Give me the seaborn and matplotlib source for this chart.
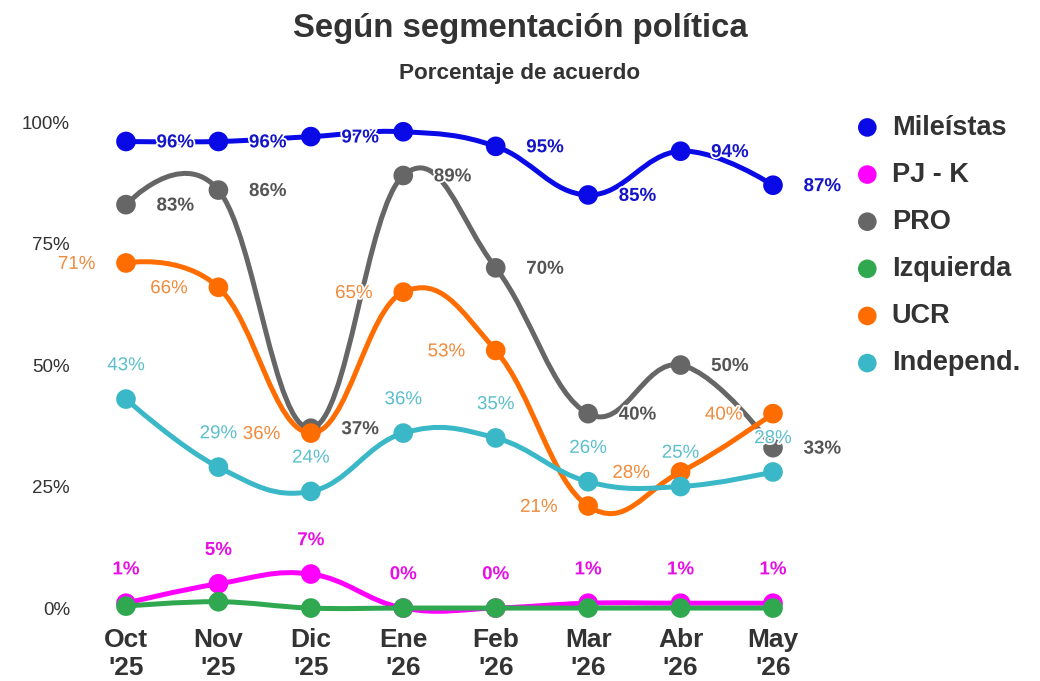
import numpy as np
import pandas as pd
import matplotlib
matplotlib.use('Agg')
import matplotlib.pyplot as plt
import matplotlib.patheffects as pe
import seaborn as sns
from matplotlib.path import Path
from matplotlib.patches import PathPatch

sns.set_theme(style='white')
plt.rcParams['font.family'] = ['Liberation Sans', 'DejaVu Sans']

# datos
meses = ["Oct\n'25", "Nov\n'25", "Dic\n'25", "Ene\n'26", "Feb\n'26", "Mar\n'26", "Abr\n'26", "May\n'26"]
mileistas = [96, 96, 97, 98, 95, 85, 94, 87]
pj_k = [1, 5, 7, 0, 0, 1, 1, 1]
pro = [83, 86, 37, 89, 70, 40, 50, 33]
izquierda = [0.4, 1.3, 0, 0, 0, 0, 0, 0]
ucr = [71, 66, 36, 65, 53, 21, 28, 40]
independ = [43, 29, 24, 36, 35, 26, 25, 28]

# etiquetas visibles (None = oculta por solapamiento)
lab_mileistas = ['96%', '96%', '97%', None, '95%', '85%', '94%', '87%']

series = [
    # nombre, valores, color linea, color etiqueta, peso, posicion etiqueta
    ('Mileístas', mileistas, '#0a0ae6', '#1414c8', 'bold', 'right'),
    ('PJ - K', pj_k, '#ff00ff', '#e60fe6', 'bold', 'top'),
    ('PRO', pro, '#666666', '#555555', 'bold', 'right'),
    ('Izquierda', izquierda, '#2fa84f', None, None, None),
    ('UCR', ucr, '#ff6d00', '#f08a3c', 'normal', 'left'),
    ('Independ.', independ, '#3bb8c8', '#5bbfcc', 'normal', 'top'),
]


def spline_path(xs, ys, smoothing=1.5):
    """curva tipo spline (control points estilo highcharts)"""
    n = len(xs)
    lc = [(x, y) for x, y in zip(xs, ys)]
    rc = [(x, y) for x, y in zip(xs, ys)]
    d = smoothing + 1
    for i in range(1, n - 1):
        x, y = xs[i], ys[i]
        lx = (smoothing * x + xs[i - 1]) / d
        ly = (smoothing * y + ys[i - 1]) / d
        rx = (smoothing * x + xs[i + 1]) / d
        ry = (smoothing * y + ys[i + 1]) / d
        corr = ((ry - ly) * (rx - x)) / (rx - lx) + y - ry
        lc[i] = (lx, ly + corr)
        rc[i] = (rx, ry + corr)
    verts = [(xs[0], ys[0])]
    codes = [Path.MOVETO]
    for i in range(1, n):
        verts += [rc[i - 1], lc[i], (xs[i], ys[i])]
        codes += [Path.CURVE4] * 3
    return Path(verts, codes)


fig = plt.figure(figsize=(10.4, 6.81), dpi=100)
ax = fig.add_axes([0.0767, 0.0857, 0.711, 0.7565])

halo = [pe.withStroke(linewidth=2.5, foreground='white')]
xs = np.arange(len(meses))
for k, (nombre, vals, col, lcol, peso, pos) in enumerate(series):
    z = 3 + k
    ax.add_patch(PathPatch(spline_path(xs, vals), facecolor='none', edgecolor=col,
                           lw=3.6, capstyle='round', joinstyle='round', zorder=z))
    sns.scatterplot(x=xs, y=vals, color=col, s=200, edgecolor='none', ax=ax,
                    label=nombre, zorder=z, clip_on=False)
    if pos is None:
        continue
    for i, v in enumerate(vals):
        txt = f'{v:.0f}%'
        if nombre == 'Mileístas':
            txt = lab_mileistas[i]
            if txt is None:
                continue
        if pos == 'right':
            off, ha = (22, -1), 'left'
        elif pos == 'left':
            off, ha = (-22, -1), 'right'
        else:
            off, ha = (0, 24), 'center'
        ax.annotate(txt, (i, v), xytext=off, textcoords='offset points', ha=ha, va='center',
                    fontsize=13.5, color=lcol, fontweight=peso, zorder=20, path_effects=halo)

ax.set_xlim(-0.5, 7.5)
ax.set_ylim(-3, 103)
ax.set_xticks(xs)
ax.set_xticklabels(meses, fontsize=19, fontweight='bold', color='#333333', linespacing=1.2)
ax.set_yticks([0, 25, 50, 75, 100])
ax.set_yticklabels(['0%', '25%', '50%', '75%', '100%'], fontsize=13.5, color='#333333')
ax.tick_params(axis='both', length=0)
ax.tick_params(axis='y', pad=7)
ax.tick_params(axis='x', pad=4)
ax.set_xlabel('')
ax.set_ylabel('')
sns.despine(ax=ax, left=True, bottom=True)

leg = ax.legend(loc='upper left', bbox_to_anchor=(847 / 1040, 1 - 101 / 681),
                bbox_transform=fig.transFigure, frameon=False, borderpad=0,
                handlelength=0.5, handletextpad=0.65, labelspacing=0.78,
                prop={'size': 19.5, 'weight': 'bold'})
for t in leg.get_texts():
    t.set_color('#333333')
for h in leg.legend_handles:
    h.set_sizes([180])

fig.text(0.5, 1 - 28 / 681, 'Según segmentación política', ha='center', va='center',
         fontsize=23.7, fontweight='bold', color='#333333')
fig.text(0.5, 1 - 73 / 681, 'Porcentaje de acuerdo', ha='center', va='center',
         fontsize=16.2, fontweight='bold', color='#333333')

plt.savefig('out.png', dpi=100)
